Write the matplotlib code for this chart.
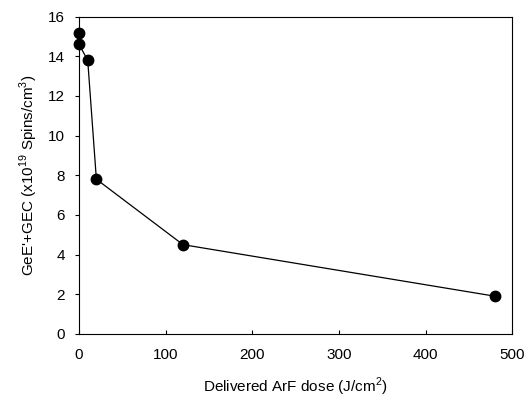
import matplotlib
matplotlib.use("Agg")
import matplotlib.pyplot as plt

# datos
dosis = [0, 0, 10, 20, 120, 480]
centros = [15.2, 14.6, 13.8, 7.8, 4.5, 1.9]

plt.rcParams['font.family'] = ['Liberation Sans', 'DejaVu Sans']
plt.rcParams['font.size'] = 11
plt.rcParams['mathtext.fontset'] = 'custom'
plt.rcParams['mathtext.rm'] = 'Liberation Sans'

fig = plt.figure(figsize=(5.27, 3.97), dpi=100)
ax = fig.add_axes([0.150, 0.159, 0.822, 0.799])

ax.plot(dosis, centros, color='black', linewidth=0.9, marker='o',
        markersize=7.5, markerfacecolor='black', clip_on=False, zorder=3)

ax.set_xlim(0, 500)
ax.set_ylim(0, 16)
ax.set_xticks(range(0, 501, 100))
ax.set_yticks(range(0, 17, 2))
ax.tick_params(axis='x', direction='in', length=3, pad=10)
ax.tick_params(axis='y', direction='out', length=3, pad=7)
for s in ax.spines.values():
    s.set_linewidth(0.8)

ax.set_xlabel('Delivered ArF dose (J/cm$^2$)', labelpad=10)
ax.set_ylabel("GeE'+GEC (x10$^{19}$ Spins/cm$^3$)", labelpad=6)

fig.savefig('out.png', dpi=100)
